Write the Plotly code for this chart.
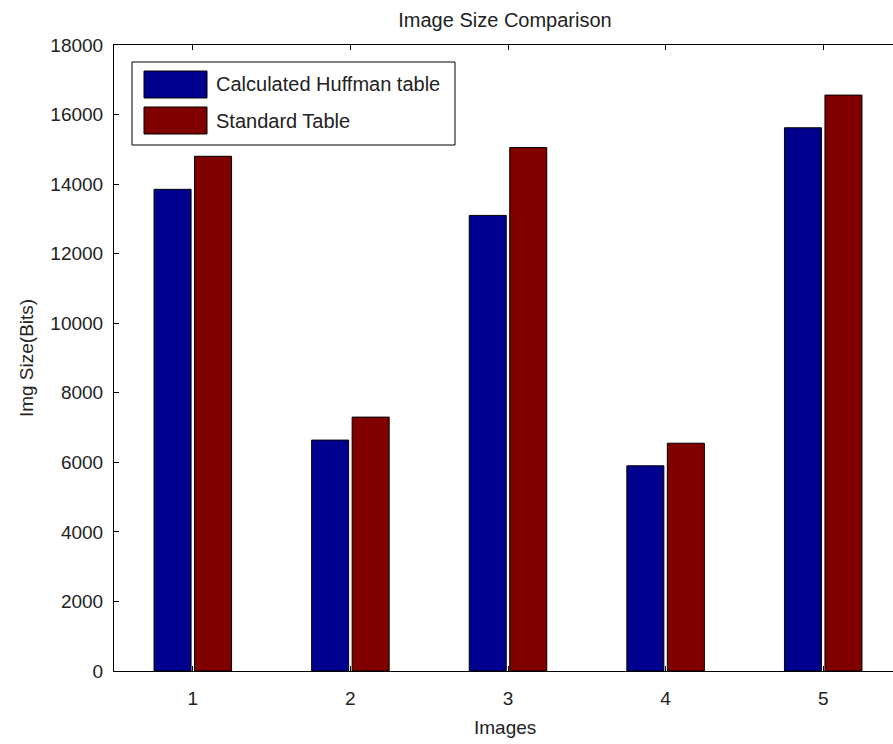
import plotly.graph_objects as go

# ---- data ----
categories = [1, 2, 3, 4, 5]
huffman_bits = [13850, 6640, 13100, 5900, 15620]
standard_bits = [14800, 7300, 15050, 6550, 16560]
y_ticks = [0, 2000, 4000, 6000, 8000, 10000, 12000, 14000, 16000, 18000]
series_names = ["Calculated Huffman table", "Standard Table"]
series_colors = ["rgb(0,0,143)", "rgb(128,0,0)"]

W, H = 893, 744
L, R, T, B = 114, 0, 45, 73
PW, PH = W - L - R, H - T - B
FONT = "Liberation Sans, Arial, Helvetica, sans-serif"
FS = 19
FS_TXT = 20
TXT = "#222222"


def px(x):
    return (x - L) / PW


def py(y):
    return (H - B - y) / PH


fig = go.Figure()
for name, vals, col in zip(series_names, [huffman_bits, standard_bits], series_colors):
    fig.add_trace(go.Bar(
        x=categories, y=vals, name=name,
        marker=dict(color=col, line=dict(color="black", width=1)),
        showlegend=False,
    ))

shapes = [
    dict(type="rect", xref="paper", yref="paper",
         x0=px(132), x1=px(455), y0=py(145), y1=py(62),
         line=dict(color="black", width=1), fillcolor="white", layer="above"),
]
annotations = []
sw_y = [(71, 98), (107, 134)]
for (y0, y1), name, col in zip(sw_y, series_names, series_colors):
    shapes.append(dict(type="rect", xref="paper", yref="paper",
                       x0=px(144), x1=px(207), y0=py(y1), y1=py(y0),
                       line=dict(color="black", width=1), fillcolor=col, layer="above"))
    annotations.append(dict(xref="paper", yref="paper", x=px(214), y=py((y0 + y1) / 2),
                            text=name, showarrow=False, xanchor="left", yanchor="middle",
                            font=dict(family=FONT, size=FS_TXT, color=TXT)))

annotations.append(dict(xref="paper", yref="paper", x=px(505), y=py(727),
                        text="Images", showarrow=False, xanchor="center", yanchor="middle",
                        font=dict(family=FONT, size=FS, color=TXT)))

fig.update_layout(
    width=W, height=H,
    margin=dict(l=L, r=R, t=T, b=B, pad=0),
    paper_bgcolor="white", plot_bgcolor="white",
    barmode="group", bargap=0.486, bargroupgap=0.086,
    title=dict(text="Image Size Comparison", x=505 / W, xref="container", xanchor="center",
               y=1 - 20 / H, yref="container", yanchor="middle",
               font=dict(family=FONT, size=FS_TXT, color=TXT)),
    font=dict(family=FONT, size=FS, color=TXT),
    shapes=shapes, annotations=annotations,
    showlegend=False,
)
fig.update_xaxes(
    range=[0.5, 0.5 + PW / 157.6], tickvals=categories, ticktext=[str(c) for c in categories],
    showline=True, linecolor="black", linewidth=1, mirror="ticks",
    ticks="inside", ticklen=5, tickcolor="black", tickwidth=1,
    showgrid=False, zeroline=False, ticklabelstandoff=10,
    tickfont=dict(family=FONT, size=FS, color=TXT),
)
fig.update_yaxes(
    range=[0, 18000], tickvals=y_ticks, ticktext=[str(v) for v in y_ticks],
    showline=True, linecolor="black", linewidth=1, mirror=False,
    ticks="inside", ticklen=5, tickcolor="black", tickwidth=1,
    showgrid=False, zeroline=False, ticklabelstandoff=6,
    tickfont=dict(family=FONT, size=FS, color=TXT),
    title=dict(text="Img Size(Bits)", standoff=11, font=dict(family=FONT, size=FS, color=TXT)),
)

fig.write_html(
    "out.html",
    config={"displayModeBar": False},
    post_script="document.body.style.margin='0';document.body.style.padding='0';"
                "document.documentElement.style.overflow='hidden';",
)
